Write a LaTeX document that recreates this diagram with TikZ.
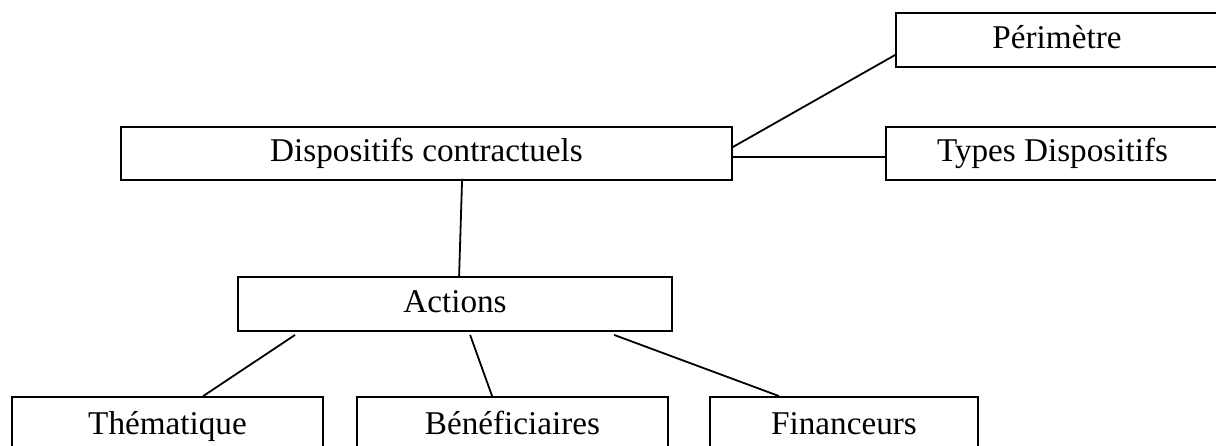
\documentclass[tikz,border=0pt]{standalone}
\usepackage{fontspec}
\setmainfont{Liberation Serif}
\usetikzlibrary{calc}
\tikzset{
  boite/.style={draw, line width=.9pt, inner sep=0pt, minimum height=27pt,
    font=\fontsize{16.6}{20}\selectfont, text height=1em, text depth=.2em},
  lien/.style={line width=.9pt}
}
\begin{document}
\begin{tikzpicture}[x=.5pt, y=-.5pt]
\useasboundingbox (0,0) rectangle (1216,445);
\node[boite, minimum width=161pt] (peri) at (1057,40){Périmètre};
\node[boite, minimum width=305.5pt, minimum height=26.5pt] (disp) at (426.5,153.5){Dispositifs contractuels};
\node[boite, minimum width=166.5pt, minimum height=26.5pt] (types) at (1052.5,153.5){Types Dispositifs};
\node[boite, minimum width=217pt] (act) at (455,304){Actions};
\node[boite, minimum width=155.5pt, minimum height=29pt] (them) at (167.5,426){Thématique};
\node[boite, minimum width=155.5pt, minimum height=29pt] (bene) at (512.5,426){Bénéficiaires};
\node[boite, minimum width=134pt, minimum height=29pt] (fin) at (844,426){Financeurs};
% liens
\draw[lien] ($(disp.east)+(0,-6.5)$)--($(peri.west)+(0,15)$);
\draw[lien] ($(disp.east)+(0,3.5)$)--($(types.west)+(0,3.5)$);
\draw[lien] ($(disp.south west)+(342,-2)$)--($(act.north west)+(222,0)$);
\draw[lien] ($(act.south west)+(58,3)$)--($(them.north west)+(192,0)$);
\draw[lien] ($(act.south west)+(233,3)$)--($(bene.north west)+(136,0)$);
\draw[lien] ($(act.south west)+(377,3)$)--($(fin.north west)+(70,0)$);
\end{tikzpicture}
\end{document}
